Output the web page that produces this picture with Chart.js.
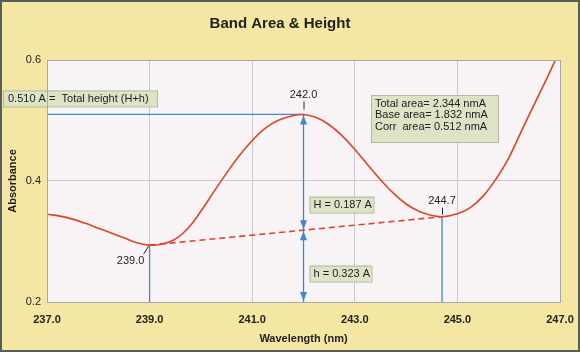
<!DOCTYPE html>
<html>
<head>
<meta charset="utf-8">
<script src="https://cdn.jsdelivr.net/npm/chart.js@4/dist/chart.umd.min.js"></script>
<style>
  html, body { margin: 0; padding: 0; background: #f4e6a3; }
  canvas { display: block; }
</style>
</head>
<body>
<canvas id="band-chart" width="580" height="352"></canvas>
<script>
// spectrum
const wavelengths = [237.0, 237.25, 237.5, 237.75, 238.0, 238.25, 238.5, 238.75, 239.0, 239.25, 239.5, 239.75,
  240.0, 240.25, 240.5, 240.75, 241.0, 241.25, 241.5, 241.75, 242.0, 242.25, 242.5, 242.75, 243.0, 243.25,
  243.5, 243.75, 244.0, 244.25, 244.5, 244.7, 245.0, 245.25, 245.5, 245.75, 246.0, 246.25, 246.5, 246.75, 246.9];
const absorbance = [0.345, 0.342, 0.337, 0.330, 0.322, 0.314, 0.306, 0.298, 0.294, 0.296, 0.304, 0.322,
  0.350, 0.382, 0.413, 0.442, 0.467, 0.487, 0.500, 0.507, 0.510, 0.505, 0.493, 0.475, 0.452, 0.427,
  0.402, 0.380, 0.362, 0.350, 0.343, 0.341, 0.346, 0.356, 0.375, 0.403, 0.438, 0.483, 0.527, 0.571, 0.598];

// baseline between the two minima
const baselineX = [239.0, 244.7];
const baselineY = [0.294, 0.341];

const peakX = 242.0;
const peakY = 0.510;
const floorY = 0.2;

const xTicks = [237, 239, 241, 243, 245, 247];
const yTicks = [0.2, 0.4, 0.6];

const heightText = '0.510 A =  Total height (H+h)';
const bigHText = 'H = 0.187 A';
const smallHText = 'h = 0.323 A';
const statLines = ['Total area= 2.344 nmA', 'Base area= 1.832 nmA', 'Corr  area= 0.512 nmA'];

const RED = '#e4422c';
const BLUE = '#3f86d4';
const FONT = "'Liberation Sans', Arial, sans-serif";

function baseAt(x) {
  return baselineY[0] + (x - baselineX[0]) * (baselineY[1] - baselineY[0]) / (baselineX[1] - baselineX[0]);
}

// background: yellow page + pale plot area
const backdrop = {
  id: 'backdrop',
  beforeDraw(chart) {
    const { ctx, chartArea: a } = chart;
    ctx.save();
    ctx.fillStyle = '#f4e6a3';
    ctx.fillRect(0, 0, chart.width, chart.height);
    ctx.fillStyle = '#f8f4f5';
    ctx.fillRect(a.left, a.top, a.right - a.left, a.bottom - a.top);
    ctx.restore();
  },
  afterDraw(chart) {
    const { ctx, chartArea: a } = chart;
    ctx.save();
    ctx.strokeStyle = '#aaa6aa';
    ctx.lineWidth = 1;
    ctx.strokeRect(a.left + 0.5, a.top + 0.5, a.right - a.left, a.bottom - a.top);
    ctx.strokeStyle = '#5c5c5c';
    ctx.lineWidth = 2;
    ctx.strokeRect(1, 1, chart.width - 2, chart.height - 2);
    ctx.restore();
  }
};

function box(ctx, x, y, w, h) {
  ctx.fillStyle = '#dde4c6';
  ctx.fillRect(x, y, w, h);
  ctx.strokeStyle = '#b3b8a2';
  ctx.lineWidth = 1;
  ctx.strokeRect(x + 0.5, y + 0.5, w, h);
}

function arrow(ctx, x, y, dir) {
  // dir = -1 points up, 1 points down; y is the tip
  ctx.beginPath();
  ctx.moveTo(x, y);
  ctx.lineTo(x - 3.5, y - dir * 9);
  ctx.lineTo(x + 3.5, y - dir * 9);
  ctx.closePath();
  ctx.fill();
}

const notes = {
  id: 'notes',
  afterDatasetsDraw(chart) {
    const { ctx } = chart;
    const xs = chart.scales.x, ys = chart.scales.y;
    const px = xs.getPixelForValue(peakX);
    const pyPeak = ys.getPixelForValue(peakY);
    const pyBase = ys.getPixelForValue(baseAt(peakX));
    const pyFloor = ys.getPixelForValue(floorY);

    ctx.save();
    // arrows on the 242 line
    ctx.fillStyle = BLUE;
    arrow(ctx, px, pyPeak + 1, -1);
    arrow(ctx, px, pyBase - 1, 1);
    arrow(ctx, px, pyBase + 1, -1);
    arrow(ctx, px, pyFloor - 1, 1);

    ctx.font = '11px ' + FONT;
    ctx.fillStyle = '#222';
    ctx.strokeStyle = '#222';
    ctx.lineWidth = 1;
    ctx.textAlign = 'center';
    ctx.textBaseline = 'middle';

    // peak label
    ctx.fillText(peakX.toFixed(1), px, pyPeak - 19);
    ctx.beginPath();
    ctx.moveTo(px + 0.5, pyPeak - 13);
    ctx.lineTo(px + 0.5, pyPeak - 5);
    ctx.stroke();

    // left minimum label
    const lx = xs.getPixelForValue(baselineX[0]);
    const ly = ys.getPixelForValue(baselineY[0]);
    ctx.fillText(baselineX[0].toFixed(1), lx - 19, ly + 16);
    ctx.beginPath();
    ctx.moveTo(lx - 6, ly + 9);
    ctx.lineTo(lx - 1, ly + 1);
    ctx.stroke();

    // right minimum label
    const rx = xs.getPixelForValue(baselineX[1]);
    const ry = ys.getPixelForValue(baselineY[1]);
    ctx.fillText(baselineX[1].toFixed(1), rx, ry - 16);
    ctx.beginPath();
    ctx.moveTo(rx + 0.5, ry - 9);
    ctx.lineTo(rx + 0.5, ry - 2);
    ctx.stroke();

    // text boxes
    ctx.textAlign = 'left';
    box(ctx, 3, pyPeak - 24, 154, 16);
    ctx.fillStyle = '#222';
    ctx.fillText(heightText, 8, pyPeak - 15.5);

    const hy = ys.getPixelForValue(0.361);
    box(ctx, px + 6, hy - 8, 64, 16);
    ctx.fillStyle = '#222';
    ctx.fillText(bigHText, px + 10, hy + 0.5);

    const sy = ys.getPixelForValue(0.247);
    box(ctx, px + 6, sy - 8, 62, 16);
    ctx.fillStyle = '#222';
    ctx.fillText(smallHText, px + 10, sy + 0.5);

    box(ctx, 371, 95, 127, 47);
    ctx.fillStyle = '#222';
    statLines.forEach((t, i) => ctx.fillText(t, 375, 103.5 + i * 11.5));
    ctx.restore();
  }
};

const ctx = document.getElementById('band-chart').getContext('2d');

new Chart(ctx, {
  type: 'line',
  data: {
    datasets: [
      {
        data: wavelengths.map((w, i) => ({ x: w, y: absorbance[i] })),
        borderColor: RED,
        borderWidth: 1.6,
        pointRadius: 0,
        tension: 0.4
      },
      {
        data: baselineX.map((w, i) => ({ x: w, y: baselineY[i] })),
        borderColor: RED,
        borderWidth: 1.6,
        borderDash: [6, 4],
        pointRadius: 0
      },
      {
        data: [{ x: xTicks[0], y: peakY }, { x: peakX, y: peakY }],
        borderColor: BLUE,
        borderWidth: 1.3,
        pointRadius: 0
      },
      {
        data: [{ x: peakX, y: peakY }, { x: peakX, y: floorY }],
        borderColor: BLUE,
        borderWidth: 1.3,
        pointRadius: 0
      },
      {
        data: [{ x: baselineX[0], y: baselineY[0] }, { x: baselineX[0], y: floorY }],
        borderColor: BLUE,
        borderWidth: 1.3,
        pointRadius: 0
      },
      {
        data: [{ x: baselineX[1], y: baselineY[1] }, { x: baselineX[1], y: floorY }],
        borderColor: BLUE,
        borderWidth: 1.3,
        pointRadius: 0
      }
    ]
  },
  options: {
    responsive: false,
    animation: false,
    layout: { padding: { right: 20 } },
    plugins: {
      legend: { display: false },
      tooltip: { enabled: false },
      title: {
        display: true,
        text: 'Band Area & Height',
        color: '#222',
        font: { family: FONT, size: 15, weight: 'bold' },
        padding: { top: 15, bottom: 27 }
      }
    },
    scales: {
      x: {
        type: 'linear',
        min: xTicks[0],
        max: xTicks[xTicks.length - 1],
        afterBuildTicks: s => { s.ticks = xTicks.map(v => ({ value: v })); },
        afterFit: s => { s.height = 50; s.paddingLeft = 0; s.paddingRight = 0; },
        border: { display: false },
        grid: { color: '#cdc8cb', drawTicks: false },
        ticks: {
          padding: 11,
          color: '#222',
          font: { family: FONT, size: 11, weight: 'bold' },
          callback: v => v.toFixed(1)
        },
        title: {
          display: true,
          text: 'Wavelength (nm)',
          color: '#222',
          font: { family: FONT, size: 11, weight: 'bold' },
          padding: { top: 0, bottom: 6 }
        }
      },
      y: {
        min: yTicks[0],
        max: yTicks[yTicks.length - 1],
        afterBuildTicks: s => { s.ticks = yTicks.map(v => ({ value: v })); },
        afterFit: s => { s.width = 47; },
        border: { display: false },
        grid: { color: '#cdc8cb', drawTicks: false },
        ticks: {
          padding: 6,
          color: '#222',
          font: { family: FONT, size: 11 },
          callback: v => v.toFixed(1)
        },
        title: {
          display: true,
          text: 'Absorbance',
          color: '#222',
          font: { family: FONT, size: 11, weight: 'bold' },
          padding: { top: 6, bottom: 0 }
        }
      }
    }
  },
  plugins: [backdrop, notes]
});
</script>
</body>
</html>
